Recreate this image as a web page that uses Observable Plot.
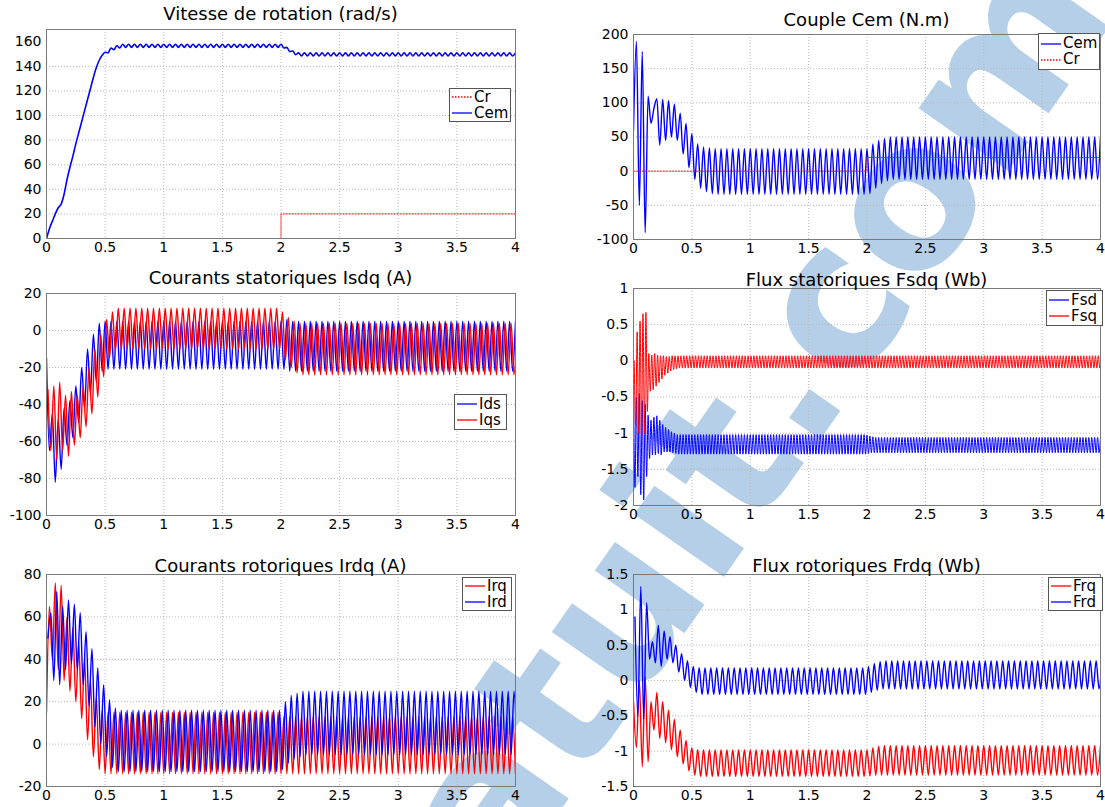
<!DOCTYPE html>
<html>
<head>
<meta charset="utf-8">
<script src="https://cdn.jsdelivr.net/npm/d3@7"></script>
<script src="https://cdn.jsdelivr.net/npm/@observablehq/plot@0.6"></script>
<style>
  body { margin: 0; background: #fff; width: 1105px; height: 807px; position: relative; overflow: hidden; font-family: "DejaVu Sans", sans-serif; }
  .title { position: absolute; transform: translate(-50%, -50%); white-space: nowrap; font-size: 18px; line-height: 1; color: #000; }
  .legend { position: absolute; background: #fff; border: 1px solid #555; box-sizing: border-box; display: flex; flex-direction: column; justify-content: center; padding-left: 2px; }
  .legend .row { display: flex; align-items: center; height: 16px; font-size: 15px; line-height: 1; }
  .legend svg { margin-right: 2px; }
  #wm { position: absolute; left: 0; top: 0; }
</style>
</head>
<body>
<svg id="wm" width="1105" height="807">
  <g transform="translate(920 297) rotate(-55)" font-family="DejaVu Sans" font-weight="bold" font-size="200" fill="#b5cfe9">
    <text x="0" y="0" text-anchor="end">Rapport-gratuit.c</text>
    <text x="0" y="0" text-anchor="start">om</text>
  </g>
</svg>
<script>
// ---------- data ----------
const xTicks = [0, 0.5, 1, 1.5, 2, 2.5, 3, 3.5, 4];
const dt20 = 0.025;   // half period of the 20 Hz oscillation (s)
const dt40 = 0.0125;  // half period of the 40 Hz oscillation (s)

// load torque step Cr
const crTime = [0, 2, 2, 4];
const crTorque = [0, 0, 20, 20];

// Vitesse de rotation (rad/s), samples every dt20 from t = 0
const speed = [
0,8,14,20,25,28,36,48,58,67,
77,86,95,104,113,122,131,139,145,149,
151.5,151,155,153.5,157,155,158,155.5,158,155.5,
158,155.5,158,155.5,158,155.5,158,155.5,158,155.5,
158,155.5,158,155.5,158,155.5,158,155.5,158,155.5,
158,155.5,158,155.5,158,155.5,158,155.5,158,155.5,
158,155.5,158,155.5,158,155.5,158,155.5,158,155.5,
158,155.5,158,155.5,158,155.5,158,155.5,158,155.5,
158,155,155.5,152,152.5,149.5,151,148.5,151,148.5,
151,148.5,151,148.5,151,148.5,151,148.5,151,148.5,
151,148.5,151,148.5,151,148.5,151,148.5,151,148.5,
151,148.5,151,148.5,151,148.5,151,148.5,151,148.5,
151,148.5,151,148.5,151,148.5,151,148.5,151,148.5,
151,148.5,151,148.5,151,148.5,151,148.5,151,148.5,
151,148.5,151,148.5,151,148.5,151,148.5,151,148.5,
151,148.5,151,148.5,151,148.5,151,148.5,151,148.5,
151];

// Couple Cem (N.m), every dt20 from t = 0
const cem = [
60,190,-50,175,-90,110,70,92,106,38,
105,45,103,50,98,45,85,25,70,5,
55,-12,40,-25,35,-30,34,-33,33,-34,
33,-34,33,-34,33,-34,33,-34,33,-34,
33,-34,33,-34,33,-34,33,-34,33,-34,
33,-34,33,-34,33,-34,33,-34,33,-34,
33,-34,33,-34,33,-34,33,-34,33,-34,
33,-34,33,-34,33,-34,33,-34,33,-34,
33,-33,40,-25,45,-18,48,-14,50,-12,
50,-12,50,-12,50,-12,50,-12,50,-12,
50,-12,50,-12,50,-12,50,-12,50,-12,
50,-12,50,-12,50,-12,50,-12,50,-12,
50,-12,50,-12,50,-12,50,-12,50,-12,
50,-12,50,-12,50,-12,50,-12,50,-12,
50,-12,50,-12,50,-12,50,-12,50,-12,
50,-12,50,-12,50,-12,50,-12,50,-12,
50];

// Courants statoriques (A): Ids every dt20 from t = 0, Iqs every dt20 from t = 0.0125
const ids = [
-15,-65,-45,-82,-48,-75,-42,-62,-38,-58,
-30,-50,-20,-42,-10,-34,-2,-28,4,-22,
5,-21,5,-21,5,-21,5,-21,5,-21,
5,-21,5,-21,5,-21,5,-21,5,-21,
5,-21,5,-21,5,-21,5,-21,5,-21,
5,-21,5,-21,5,-21,5,-21,5,-21,
5,-21,5,-21,5,-21,5,-21,5,-21,
5,-21,5,-21,5,-21,5,-21,5,-21,
5,-21,6,-22,5,-22,5,-22,5,-22,
5,-22,5,-22,5,-22,5,-22,5,-22,
5,-22,5,-22,5,-22,5,-22,5,-22,
5,-22,5,-22,5,-22,5,-22,5,-22,
5,-22,5,-22,5,-22,5,-22,5,-22,
5,-22,5,-22,5,-22,5,-22,5,-22,
5,-22,5,-22,5,-22,5,-22,5,-22,
5,-22,5,-22,5,-22,5,-22,5,-22,
5];
const iqs = [
-32,-65,-30,-70,-28,-65,-35,-68,-33,-62,
-35,-58,-30,-52,-20,-45,-10,-36,-2,-25,
6,-15,10,-11,12,-10,12,-10,12,-10,
12,-10,12,-10,12,-10,12,-10,12,-10,
12,-10,12,-10,12,-10,12,-10,12,-10,
12,-10,12,-10,12,-10,12,-10,12,-10,
12,-10,12,-10,12,-10,12,-10,12,-10,
12,-10,12,-10,12,-10,12,-10,12,-10,
10,-16,7,-20,5,-23,4,-24,4,-24,
4,-24,4,-24,4,-24,4,-24,4,-24,
4,-24,4,-24,4,-24,4,-24,4,-24,
4,-24,4,-24,4,-24,4,-24,4,-24,
4,-24,4,-24,4,-24,4,-24,4,-24,
4,-24,4,-24,4,-24,4,-24,4,-24,
4,-24,4,-24,4,-24,4,-24,4,-24,
4,-24,4,-24,4,-24,4,-24,4,-24,
4];

// Flux statoriques (Wb): Fsd every dt40 from t = 0, Fsq every dt40 from t = 0.00625
const fsd = [
-0.3,-1.75,-0.5,-1.6,-0.45,-1.85,-0.55,-1.92,-0.6,-1.6,
-0.75,-1.35,-0.82,-1.3,-0.78,-1.3,-0.76,-1.28,-0.82,-1.3,
-0.88,-1.26,-0.92,-1.26,-0.95,-1.26,-0.98,-1.27,-1,-1.28,
-1.02,-1.29,-1.02,-1.29,-1.02,-1.29,-1.02,-1.29,-1.02,-1.29,
-1.02,-1.29,-1.02,-1.29,-1.02,-1.29,-1.02,-1.29,-1.02,-1.29,
-1.02,-1.29,-1.02,-1.29,-1.02,-1.29,-1.02,-1.29,-1.02,-1.29,
-1.02,-1.29,-1.02,-1.29,-1.02,-1.29,-1.02,-1.29,-1.02,-1.29,
-1.02,-1.29,-1.02,-1.29,-1.02,-1.29,-1.02,-1.29,-1.02,-1.29,
-1.02,-1.29,-1.02,-1.29,-1.02,-1.29,-1.02,-1.29,-1.02,-1.29,
-1.02,-1.29,-1.02,-1.29,-1.02,-1.29,-1.02,-1.29,-1.02,-1.29,
-1.02,-1.29,-1.02,-1.29,-1.02,-1.29,-1.02,-1.29,-1.02,-1.29,
-1.02,-1.29,-1.02,-1.29,-1.02,-1.29,-1.02,-1.29,-1.02,-1.29,
-1.02,-1.29,-1.02,-1.29,-1.02,-1.29,-1.02,-1.29,-1.02,-1.29,
-1.02,-1.29,-1.02,-1.29,-1.02,-1.29,-1.02,-1.29,-1.02,-1.29,
-1.02,-1.29,-1.02,-1.29,-1.02,-1.29,-1.02,-1.29,-1.02,-1.29,
-1.02,-1.29,-1.02,-1.29,-1.02,-1.29,-1.02,-1.29,-1.02,-1.29,
-1.03,-1.28,-1.04,-1.27,-1.05,-1.27,-1.06,-1.27,-1.06,-1.27,
-1.06,-1.27,-1.06,-1.27,-1.06,-1.27,-1.06,-1.27,-1.06,-1.27,
-1.06,-1.27,-1.06,-1.27,-1.06,-1.27,-1.06,-1.27,-1.06,-1.27,
-1.06,-1.27,-1.06,-1.27,-1.06,-1.27,-1.06,-1.27,-1.06,-1.27,
-1.06,-1.27,-1.06,-1.27,-1.06,-1.27,-1.06,-1.27,-1.06,-1.27,
-1.06,-1.27,-1.06,-1.27,-1.06,-1.27,-1.06,-1.27,-1.06,-1.27,
-1.06,-1.27,-1.06,-1.27,-1.06,-1.27,-1.06,-1.27,-1.06,-1.27,
-1.06,-1.27,-1.06,-1.27,-1.06,-1.27,-1.06,-1.27,-1.06,-1.27,
-1.06,-1.27,-1.06,-1.27,-1.06,-1.27,-1.06,-1.27,-1.06,-1.27,
-1.06,-1.27,-1.06,-1.27,-1.06,-1.27,-1.06,-1.27,-1.06,-1.27,
-1.06,-1.27,-1.06,-1.27,-1.06,-1.27,-1.06,-1.27,-1.06,-1.27,
-1.06,-1.27,-1.06,-1.27,-1.06,-1.27,-1.06,-1.27,-1.06,-1.27,
-1.06,-1.27,-1.06,-1.27,-1.06,-1.27,-1.06,-1.27,-1.06,-1.27,
-1.06,-1.27,-1.06,-1.27,-1.06,-1.27,-1.06,-1.27,-1.06,-1.27,
-1.06,-1.27,-1.06,-1.27,-1.06,-1.27,-1.06,-1.27,-1.06,-1.27,
-1.06,-1.27,-1.06,-1.27,-1.06,-1.27,-1.06,-1.27,-1.06,-1.27,
-1.06];
const fsq = [
0,-0.9,0.4,-1,0.55,-1.05,0.65,-1,0.67,-0.7,
0.1,-0.42,0.08,-0.4,0.1,-0.35,0.08,-0.3,0.07,-0.25,
0.07,-0.2,0.06,-0.17,0.06,-0.14,0.07,-0.12,0.07,-0.11,
0.07,-0.1,0.07,-0.1,0.07,-0.1,0.07,-0.1,0.07,-0.1,
0.07,-0.1,0.07,-0.1,0.07,-0.1,0.07,-0.1,0.07,-0.1,
0.07,-0.1,0.07,-0.1,0.07,-0.1,0.07,-0.1,0.07,-0.1,
0.07,-0.1,0.07,-0.1,0.07,-0.1,0.07,-0.1,0.07,-0.1,
0.07,-0.1,0.07,-0.1,0.07,-0.1,0.07,-0.1,0.07,-0.1,
0.07,-0.1,0.07,-0.1,0.07,-0.1,0.07,-0.1,0.07,-0.1,
0.07,-0.1,0.07,-0.1,0.07,-0.1,0.07,-0.1,0.07,-0.1,
0.07,-0.1,0.07,-0.1,0.07,-0.1,0.07,-0.1,0.07,-0.1,
0.07,-0.1,0.07,-0.1,0.07,-0.1,0.07,-0.1,0.07,-0.1,
0.07,-0.1,0.07,-0.1,0.07,-0.1,0.07,-0.1,0.07,-0.1,
0.07,-0.1,0.07,-0.1,0.07,-0.1,0.07,-0.1,0.07,-0.1,
0.07,-0.1,0.07,-0.1,0.07,-0.1,0.07,-0.1,0.07,-0.1,
0.07,-0.1,0.07,-0.1,0.07,-0.1,0.07,-0.1,0.07,-0.1,
0.07,-0.1,0.07,-0.1,0.07,-0.1,0.07,-0.1,0.07,-0.1,
0.07,-0.1,0.07,-0.1,0.07,-0.1,0.07,-0.1,0.07,-0.1,
0.07,-0.1,0.07,-0.1,0.07,-0.1,0.07,-0.1,0.07,-0.1,
0.07,-0.1,0.07,-0.1,0.07,-0.1,0.07,-0.1,0.07,-0.1,
0.07,-0.1,0.07,-0.1,0.07,-0.1,0.07,-0.1,0.07,-0.1,
0.07,-0.1,0.07,-0.1,0.07,-0.1,0.07,-0.1,0.07,-0.1,
0.07,-0.1,0.07,-0.1,0.07,-0.1,0.07,-0.1,0.07,-0.1,
0.07,-0.1,0.07,-0.1,0.07,-0.1,0.07,-0.1,0.07,-0.1,
0.07,-0.1,0.07,-0.1,0.07,-0.1,0.07,-0.1,0.07,-0.1,
0.07,-0.1,0.07,-0.1,0.07,-0.1,0.07,-0.1,0.07,-0.1,
0.07,-0.1,0.07,-0.1,0.07,-0.1,0.07,-0.1,0.07,-0.1,
0.07,-0.1,0.07,-0.1,0.07,-0.1,0.07,-0.1,0.07,-0.1,
0.07,-0.1,0.07,-0.1,0.07,-0.1,0.07,-0.1,0.07,-0.1,
0.07,-0.1,0.07,-0.1,0.07,-0.1,0.07,-0.1,0.07,-0.1,
0.07,-0.1,0.07,-0.1,0.07,-0.1,0.07,-0.1,0.07,-0.1,
0.07,-0.1,0.07,-0.1,0.07,-0.1,0.07,-0.1,0.07,-0.1,
0.07];

// Courants rotoriques (A): Irq every dt20 from t = 0, Ird every dt20 from t = 0.0125
const irq = [
15,65,40,76,35,75,30,60,25,55,
20,48,12,40,2,30,-6,22,-12,16,
-14,15,-14,15,-14,15,-14,15,-14,15,
-14,15,-14,15,-14,15,-14,15,-14,15,
-14,15,-14,15,-14,15,-14,15,-14,15,
-14,15,-14,15,-14,15,-14,15,-14,15,
-14,15,-14,15,-14,15,-14,15,-14,15,
-14,15,-14,15,-14,15,-14,15,-14,15,
-14,13,-14,13,-14,13,-14,13,-14,13,
-14,13,-14,13,-14,13,-14,13,-14,13,
-14,13,-14,13,-14,13,-14,13,-14,13,
-14,13,-14,13,-14,13,-14,13,-14,13,
-14,13,-14,13,-14,13,-14,13,-14,13,
-14,13,-14,13,-14,13,-14,13,-14,13,
-14,13,-14,13,-14,13,-14,13,-14,13,
-14,13,-14,13,-14,13,-14,13,-14,13,
-14];
const ird = [
50,62,30,72,28,65,35,68,38,66,
35,62,28,53,18,45,8,36,0,28,
-6,21,-11,17,-13,16,-13,16,-13,16,
-13,16,-13,16,-13,16,-13,16,-13,16,
-13,16,-13,16,-13,16,-13,16,-13,16,
-13,16,-13,16,-13,16,-13,16,-13,16,
-13,16,-13,16,-13,16,-13,16,-13,16,
-13,16,-13,16,-13,16,-13,16,-13,16,
-12,20,-9,23,-7,24,-6,25,-5,25,
-5,25,-5,25,-5,25,-5,25,-5,25,
-5,25,-5,25,-5,25,-5,25,-5,25,
-5,25,-5,25,-5,25,-5,25,-5,25,
-5,25,-5,25,-5,25,-5,25,-5,25,
-5,25,-5,25,-5,25,-5,25,-5,25,
-5,25,-5,25,-5,25,-5,25,-5,25,
-5,25,-5,25,-5,25,-5,25,-5,25,
-5];

// Flux rotoriques (Wb): Frq every dt20 from t = 0, Frd every dt20 from t = 0.0125
const frq = [
-0.3,-0.95,0,-1.22,0.05,-1.15,-0.3,-0.7,-0.17,-0.82,
-0.3,-0.88,-0.42,-0.98,-0.55,-1.08,-0.7,-1.18,-0.85,-1.28,
-0.95,-1.34,-0.98,-1.36,-0.98,-1.36,-0.98,-1.36,-0.98,-1.36,
-0.98,-1.36,-0.98,-1.36,-0.98,-1.36,-0.98,-1.36,-0.98,-1.36,
-0.98,-1.36,-0.98,-1.36,-0.98,-1.36,-0.98,-1.36,-0.98,-1.36,
-0.98,-1.36,-0.98,-1.36,-0.98,-1.36,-0.98,-1.36,-0.98,-1.36,
-0.98,-1.36,-0.98,-1.36,-0.98,-1.36,-0.98,-1.36,-0.98,-1.36,
-0.98,-1.36,-0.98,-1.36,-0.98,-1.36,-0.98,-1.36,-0.98,-1.36,
-0.98,-1.35,-0.95,-1.34,-0.93,-1.34,-0.92,-1.34,-0.92,-1.34,
-0.92,-1.34,-0.92,-1.34,-0.92,-1.34,-0.92,-1.34,-0.92,-1.34,
-0.92,-1.34,-0.92,-1.34,-0.92,-1.34,-0.92,-1.34,-0.92,-1.34,
-0.92,-1.34,-0.92,-1.34,-0.92,-1.34,-0.92,-1.34,-0.92,-1.34,
-0.92,-1.34,-0.92,-1.34,-0.92,-1.34,-0.92,-1.34,-0.92,-1.34,
-0.92,-1.34,-0.92,-1.34,-0.92,-1.34,-0.92,-1.34,-0.92,-1.34,
-0.92,-1.34,-0.92,-1.34,-0.92,-1.34,-0.92,-1.34,-0.92,-1.34,
-0.92,-1.34,-0.92,-1.34,-0.92,-1.34,-0.92,-1.34,-0.92,-1.34,
-0.92];
const frd = [
0.9,-0.5,1.33,-0.55,1.1,0.3,0.55,0.25,0.78,0.2,
0.7,0.3,0.62,0.25,0.5,0.12,0.38,0,0.28,-0.1,
0.2,-0.17,0.18,-0.2,0.18,-0.2,0.18,-0.2,0.18,-0.2,
0.18,-0.2,0.18,-0.2,0.18,-0.2,0.18,-0.2,0.18,-0.2,
0.18,-0.2,0.18,-0.2,0.18,-0.2,0.18,-0.2,0.18,-0.2,
0.18,-0.2,0.18,-0.2,0.18,-0.2,0.18,-0.2,0.18,-0.2,
0.18,-0.2,0.18,-0.2,0.18,-0.2,0.18,-0.2,0.18,-0.2,
0.18,-0.2,0.18,-0.2,0.18,-0.2,0.18,-0.2,0.18,-0.2,
0.2,-0.17,0.24,-0.14,0.27,-0.12,0.28,-0.12,0.28,-0.12,
0.28,-0.12,0.28,-0.12,0.28,-0.12,0.28,-0.12,0.28,-0.12,
0.28,-0.12,0.28,-0.12,0.28,-0.12,0.28,-0.12,0.28,-0.12,
0.28,-0.12,0.28,-0.12,0.28,-0.12,0.28,-0.12,0.28,-0.12,
0.28,-0.12,0.28,-0.12,0.28,-0.12,0.28,-0.12,0.28,-0.12,
0.28,-0.12,0.28,-0.12,0.28,-0.12,0.28,-0.12,0.28,-0.12,
0.28,-0.12,0.28,-0.12,0.28,-0.12,0.28,-0.12,0.28,-0.12,
0.28,-0.12,0.28,-0.12,0.28,-0.12,0.28,-0.12,0.28,-0.12,
0.28];

// ---------- helpers ----------
const BLUE = "#0000ff", RED = "#ff0000";
function sampled(values, t0, dt) { return values.map((v, i) => ({t: t0 + i * dt, v})); }
const crRows = crTime.map((t, i) => ({t, v: crTorque[i]}));

function panel(cfg) {
  const marks = [
    Plot.ruleX(xTicks.slice(1, -1), {stroke: "#b8b8b8", strokeDasharray: "1,2"}),
    Plot.ruleY(cfg.yTicks.slice(1, -1), {stroke: "#b8b8b8", strokeDasharray: "1,2"})
  ];
  for (const s of cfg.series) {
    marks.push(Plot.line(s.data, {x: "t", y: "v", stroke: s.color, strokeWidth: s.width || 1.4,
      strokeDasharray: s.dash, strokeOpacity: s.opacity || 1, curve: s.curve || "monotone-x", clip: true}));
  }
  marks.push(Plot.frame({stroke: "#7a7a7a"}));
  const svg = Plot.plot({
    width: cfg.width, height: cfg.height,
    marginLeft: 46, marginRight: cfg.mr, marginTop: 29, marginBottom: 22,
    style: {background: "transparent", fontFamily: "DejaVu Sans, sans-serif", fontSize: "14px", color: "#000", overflow: "visible"},
    x: {domain: [0, 4], ticks: xTicks, tickFormat: d => String(d), tickSize: 0, tickPadding: 4, label: null},
    y: {domain: cfg.yDomain, ticks: cfg.yTicks, tickFormat: d => String(d), tickSize: 0, tickPadding: 5, label: null},
    marks
  });
  svg.style.position = "absolute";
  svg.style.left = cfg.left + "px";
  svg.style.top = cfg.top + "px";
  document.body.appendChild(svg);
}

function title(text, x, y) {
  const d = document.createElement("div");
  d.className = "title"; d.textContent = text;
  d.style.left = x + "px"; d.style.top = y + "px";
  document.body.appendChild(d);
}

function legend(x, y, w, h, items) {
  const box = document.createElement("div");
  box.className = "legend";
  Object.assign(box.style, {left: x + "px", top: y + "px", width: w + "px", height: h + "px"});
  for (const it of items) {
    const row = document.createElement("div");
    row.className = "row";
    row.innerHTML = `<svg width="20" height="4"><line x1="0" y1="2" x2="20" y2="2" stroke="${it.color}" stroke-width="1.3" ${it.dash ? `stroke-dasharray="${it.dash}"` : ""}/></svg><span>${it.label}</span>`;
    box.appendChild(row);
  }
  document.body.appendChild(box);
}

// ---------- panels ----------
panel({left: 0, top: 0, width: 527, height: 260, mr: 12,
  yDomain: [0, 170], yTicks: [0, 20, 40, 60, 80, 100, 120, 140, 160],
  series: [
    {data: crRows, color: RED, dash: "1.5,1.5", width: 1, curve: "linear", opacity: 0.85},
    {data: sampled(speed, 0, dt20), color: BLUE, width: 1.6}
  ]});
panel({left: 587, top: 5, width: 518, height: 256, mr: 5,
  yDomain: [-100, 200], yTicks: [-100, -50, 0, 50, 100, 150, 200],
  series: [
    {data: sampled(cem, 0, dt20), color: BLUE},
    {data: crRows, color: RED, dash: "1.5,1.5", width: 1, curve: "linear", opacity: 0.85}
  ]});
panel({left: 0, top: 264, width: 527, height: 273, mr: 12,
  yDomain: [-100, 20], yTicks: [-100, -80, -60, -40, -20, 0, 20],
  series: [
    {data: sampled(ids, 0, dt20), color: BLUE},
    {data: sampled(iqs, 0.0125, dt20), color: RED}
  ]});
panel({left: 587, top: 259, width: 518, height: 268, mr: 5,
  yDomain: [-2, 1], yTicks: [-2, -1.5, -1, -0.5, 0, 0.5, 1],
  series: [
    {data: sampled(fsd, 0, dt40), color: BLUE, width: 1},
    {data: sampled(fsq, 0.00625, dt40), color: RED, width: 1}
  ]});
panel({left: 0, top: 545, width: 527, height: 263, mr: 12,
  yDomain: [-20, 80], yTicks: [-20, 0, 20, 40, 60, 80],
  series: [
    {data: sampled(irq, 0, dt20), color: RED},
    {data: sampled(ird, 0.0125, dt20), color: BLUE}
  ]});
panel({left: 587, top: 545, width: 518, height: 263, mr: 5,
  yDomain: [-1.5, 1.5], yTicks: [-1.5, -1, -0.5, 0, 0.5, 1, 1.5],
  series: [
    {data: sampled(frq, 0, dt20), color: RED},
    {data: sampled(frd, 0.0125, dt20), color: BLUE}
  ]});

// ---------- titles ----------
title("Vitesse de rotation (rad/s)", 280.5, 14);
title("Couple Cem (N.m)", 866.5, 19.5);
title("Courants statoriques Isdq (A)", 280.5, 278);
title("Flux statoriques Fsdq (Wb)", 866.5, 280);
title("Courants rotoriques Irdq (A)", 280.5, 565.5);
title("Flux rotoriques Frdq (Wb)", 866.5, 565.5);

// ---------- legends ----------
legend(449, 88, 62, 34, [{label: "Cr", color: RED, dash: "1.5,1.5"}, {label: "Cem", color: BLUE}]);
legend(1038, 33, 62, 37, [{label: "Cem", color: BLUE}, {label: "Cr", color: RED, dash: "1.5,1.5"}]);
legend(454, 394, 53, 36, [{label: "Ids", color: BLUE}, {label: "Iqs", color: RED}]);
legend(1046, 290, 57, 36, [{label: "Fsd", color: BLUE}, {label: "Fsq", color: RED}]);
legend(462, 577, 50, 34, [{label: "Irq", color: RED}, {label: "Ird", color: BLUE}]);
legend(1048, 577, 55, 34, [{label: "Frq", color: RED}, {label: "Frd", color: BLUE}]);
</script>
</body>
</html>
